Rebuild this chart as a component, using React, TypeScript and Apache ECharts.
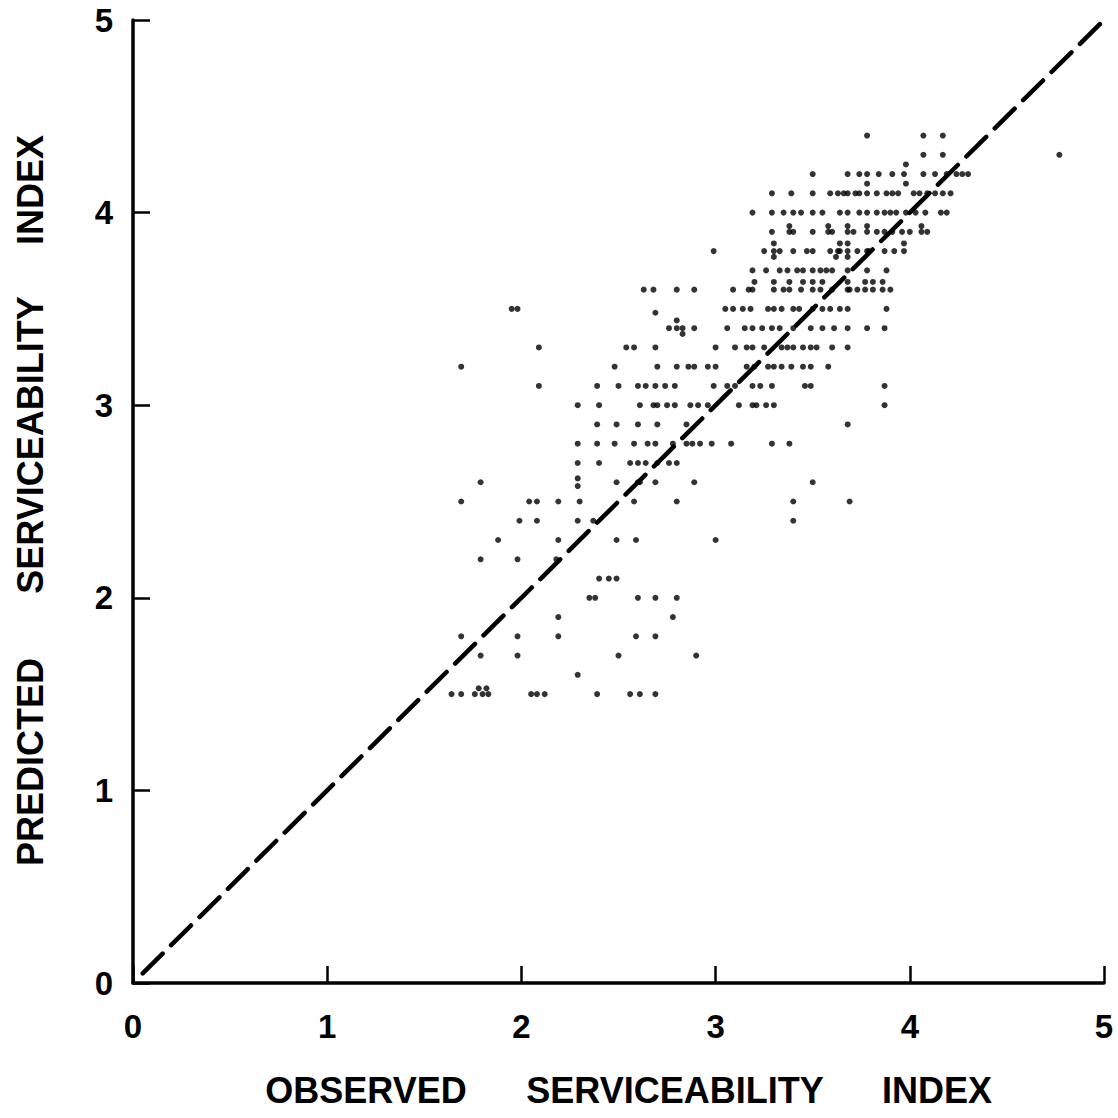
import React, { useEffect, useRef } from "react";
import * as echarts from "echarts";

// Axis ticks (both axes run 0..5)
const tickValues = [0, 1, 2, 3, 4, 5];

// Observed values grouped by predicted level (each row of dots in the plot)
const predictedLevels = [4.4, 4.3, 4.25, 4.2, 4.15, 4.1, 4.0, 3.93, 3.9, 3.84, 3.8, 3.77, 3.7, 3.64, 3.6, 3.5, 3.48, 3.44, 3.4, 3.37, 3.3, 3.2, 3.1, 3.0, 2.9, 2.8, 2.7, 2.62, 2.58, 2.5, 2.4, 2.3, 2.2, 2.1, 2.0, 1.9, 1.8, 1.7, 1.6, 1.53, 1.5];

const obsAt440 = [3.78, 4.07, 4.17];
const obsAt430 = [4.07, 4.17, 4.77];
const obsAt425 = [3.98];
const obsAt420 = [3.5, 3.68, 3.74, 3.78, 3.84, 3.91, 3.97, 4.07, 4.13, 4.19, 4.24, 4.27, 4.3];
const obsAt415 = [3.78, 3.98];
const obsAt410 = [3.29, 3.39, 3.5, 3.59, 3.63, 3.66, 3.68, 3.72, 3.74, 3.78, 3.83, 3.88, 3.91, 3.94, 4.02, 4.05, 4.09, 4.13, 4.17, 4.21];
const obsAt400 = [3.19, 3.29, 3.35, 3.4, 3.44, 3.5, 3.55, 3.64, 3.68, 3.74, 3.78, 3.83, 3.87, 3.9, 3.93, 3.98, 4.03, 4.08, 4.16, 4.19];
const obsAt393 = [3.38, 3.58, 3.68, 3.78, 4.06];
const obsAt390 = [3.29, 3.38, 3.4, 3.5, 3.58, 3.6, 3.68, 3.71, 3.78, 3.83, 3.87, 3.91, 3.96, 4.0, 4.06, 4.09];
const obsAt384 = [3.3, 3.64, 3.68, 3.97];
const obsAt380 = [2.99, 3.25, 3.3, 3.33, 3.4, 3.47, 3.5, 3.59, 3.63, 3.64, 3.68, 3.73, 3.78, 3.79, 3.87, 3.92, 3.97];
const obsAt377 = [3.3, 3.62, 3.68];
const obsAt370 = [3.19, 3.26, 3.33, 3.37, 3.42, 3.45, 3.5, 3.54, 3.57, 3.6, 3.68, 3.78, 3.88];
const obsAt364 = [3.2, 3.3, 3.38, 3.45, 3.5, 3.55, 3.68, 3.77, 3.81, 3.86];
const obsAt360 = [2.63, 2.68, 2.8, 2.89, 3.09, 3.17, 3.19, 3.3, 3.35, 3.38, 3.44, 3.5, 3.54, 3.6, 3.68, 3.69, 3.73, 3.77, 3.81, 3.86, 3.9];
const obsAt350 = [1.95, 1.98, 3.05, 3.09, 3.14, 3.18, 3.27, 3.3, 3.34, 3.4, 3.43, 3.5, 3.55, 3.59, 3.64, 3.68, 3.88];
const obsAt348 = [2.69];
const obsAt344 = [2.8];
const obsAt340 = [2.76, 2.8, 2.83, 2.89, 3.06, 3.15, 3.19, 3.24, 3.29, 3.33, 3.4, 3.49, 3.55, 3.61, 3.68, 3.78, 3.87];
const obsAt337 = [2.83];
const obsAt330 = [2.09, 2.54, 2.58, 2.69, 3.0, 3.1, 3.16, 3.19, 3.25, 3.34, 3.37, 3.4, 3.45, 3.49, 3.52, 3.6, 3.68];
const obsAt320 = [1.69, 2.48, 2.7, 2.8, 2.86, 2.89, 2.96, 3.0, 3.16, 3.2, 3.27, 3.3, 3.34, 3.39, 3.45, 3.49, 3.58];
const obsAt310 = [2.09, 2.39, 2.5, 2.6, 2.64, 2.69, 2.74, 2.79, 2.99, 3.06, 3.1, 3.19, 3.23, 3.29, 3.46, 3.49, 3.87];
const obsAt300 = [2.29, 2.4, 2.61, 2.68, 2.7, 2.75, 2.79, 2.87, 2.91, 2.96, 3.12, 3.19, 3.21, 3.26, 3.3, 3.87];
const obsAt290 = [2.39, 2.49, 2.6, 2.7, 2.85, 3.68];
const obsAt280 = [2.29, 2.39, 2.48, 2.58, 2.65, 2.69, 2.78, 2.85, 2.88, 2.92, 2.98, 3.08, 3.29, 3.38];
const obsAt270 = [2.29, 2.4, 2.56, 2.6, 2.64, 2.7, 2.76, 2.8];
const obsAt262 = [2.29];
const obsAt258 = [2.29];
const obsAt250 = [1.69, 2.04, 2.08, 2.19, 2.3, 2.58, 2.8, 3.4, 3.69];
const obsAt240 = [1.99, 2.08, 2.29, 2.37, 3.4];
const obsAt230 = [1.88, 2.19, 2.49, 2.59, 3.0];
const obsAt220 = [1.79, 1.98, 2.18];
const obsAt210 = [2.4, 2.45, 2.49];
const obsAt200 = [2.35, 2.38, 2.6, 2.69, 2.8];
const obsAt190 = [2.19, 2.78];
const obsAt180 = [1.69, 1.98, 2.19, 2.59, 2.69];
const obsAt170 = [1.79, 1.98, 2.5, 2.9];
const obsAt160 = [2.29];
const obsAt153 = [1.78, 1.82];
const obsAt150 = [1.64, 1.69, 1.76, 1.8, 1.83, 2.05, 2.08, 2.12, 2.39, 2.56, 2.61, 2.69];

const observedRows = [
  obsAt440, obsAt430, obsAt425, obsAt420, obsAt415, obsAt410, obsAt400, obsAt393, obsAt390, obsAt384,
  obsAt380, obsAt377, obsAt370, obsAt364, obsAt360, obsAt350, obsAt348, obsAt344, obsAt340, obsAt337,
  obsAt330, obsAt320, obsAt310, obsAt300, obsAt290, obsAt280, obsAt270, obsAt262, obsAt258, obsAt250,
  obsAt240, obsAt230, obsAt220, obsAt210, obsAt200, obsAt190, obsAt180, obsAt170, obsAt160, obsAt153, obsAt150,
];
// main 2.6 row
const extraLevel = 2.6;
const obsAt260 = [1.79, 2.49, 2.6, 2.61, 2.69, 2.89, 3.5];

// Line of equality
const equalityLine = [[0.05, 0.05], [5, 5]];

const xTitleWords = ["OBSERVED", "SERVICEABILITY", "INDEX"];
const yTitleWords = ["PREDICTED", "SERVICEABILITY", "INDEX"];

export default function App() {
  const ref = useRef<HTMLDivElement>(null);
  useEffect(() => {
    if (!ref.current) return;
    const chart = echarts.init(ref.current, null, { renderer: "svg" });
    const points: number[][] = [];
    predictedLevels.forEach((lvl, i) => {
      const row = observedRows[i];
      if (!row) return;
      row.forEach((x) => points.push([x, lvl]));
    });
    obsAt260.forEach((x) => points.push([x, extraLevel]));

    const font = "'Liberation Sans', Arial, Helvetica, sans-serif";
    const xCenters = [366, 675, 937];
    const yCenters = [762, 445, 190];

    const graphics: any[] = [];
    xTitleWords.forEach((w, i) =>
      graphics.push({
        type: "text",
        x: xCenters[i],
        y: 1090,
        style: { text: w, font: `bold 36px ${font}`, fill: "#000", textAlign: "center", textVerticalAlign: "middle" },
      })
    );
    yTitleWords.forEach((w, i) =>
      graphics.push({
        type: "text",
        x: 30,
        y: yCenters[i],
        rotation: Math.PI / 2,
        style: { text: w, font: `bold 36px ${font}`, fill: "#000", textAlign: "center", textVerticalAlign: "middle" },
      })
    );

    const axisCommon = {
      type: "value" as const,
      min: 0,
      max: 5,
      interval: 1,
      splitLine: { show: false },
      axisLine: { show: true, onZero: false, lineStyle: { color: "#000", width: 3.5 } },
      axisTick: { show: true, inside: true, length: 17, lineStyle: { color: "#000", width: 2.5 } },
    };

    chart.setOption({
      animation: false,
      backgroundColor: "#fff",
      textStyle: { fontFamily: font },
      grid: { left: 133, right: 14, top: 20, bottom: 135, containLabel: false },
      xAxis: {
        ...axisCommon,
        axisLabel: {
          color: "#000",
          fontSize: 33,
          fontWeight: "bold",
          fontFamily: font,
          margin: 27,
          formatter: (v: number) => (tickValues.includes(v) ? String(v) : ""),
        },
      },
      yAxis: {
        ...axisCommon,
        axisLabel: {
          color: "#000",
          fontSize: 33,
          fontWeight: "bold",
          fontFamily: font,
          margin: 20,
          formatter: (v: number) => (tickValues.includes(v) ? String(v) : ""),
        },
      },
      series: [
        {
          type: "line",
          data: equalityLine,
          showSymbol: false,
          symbol: "none",
          lineStyle: { color: "#000", width: 4.5, type: [28, 12], cap: "round" },
          z: 3,
        },
        {
          type: "scatter",
          data: points,
          symbol: "circle",
          symbolSize: 6,
          itemStyle: { color: "#000" },
          z: 4,
        },
      ],
      graphic: graphics,
    });
    return () => chart.dispose();
  }, []);
  return (
    <div
      ref={ref}
      style={{ position: "absolute", left: 0, top: 0, width: 1118, height: 1118 }}
    />
  );
}
